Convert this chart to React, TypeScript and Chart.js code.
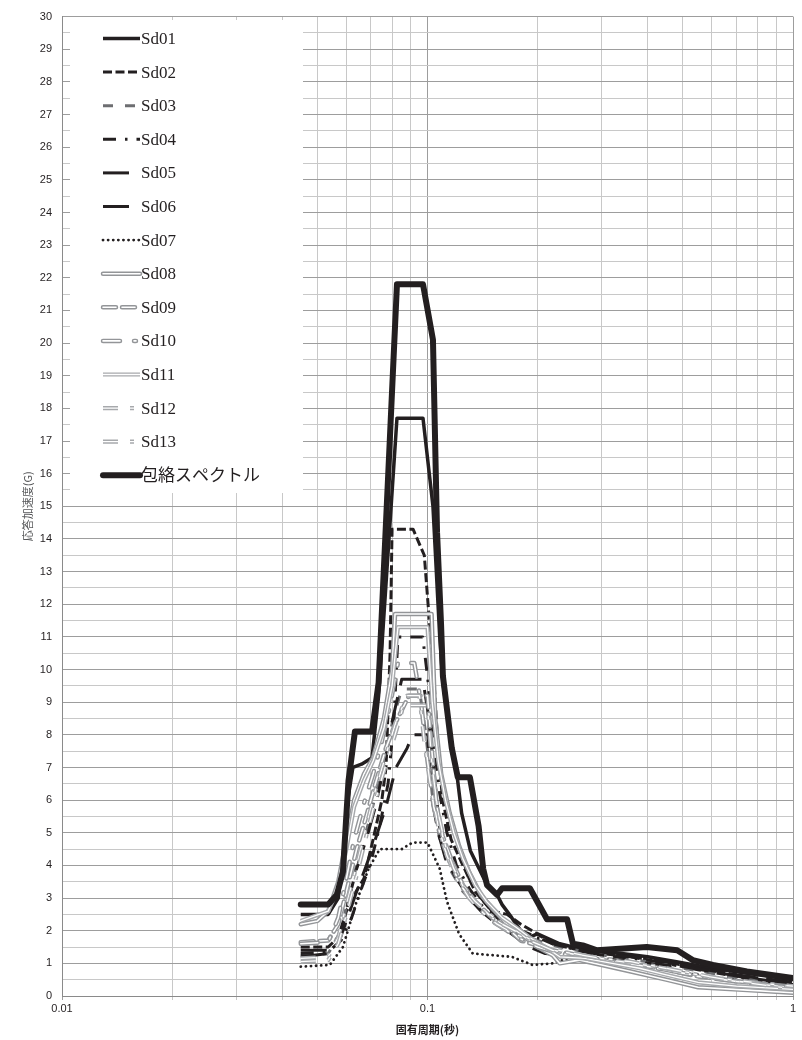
import React, { useEffect, useRef } from 'react';
import { Chart, registerables } from 'chart.js';

Chart.register(...registerables);

// ---- data (period [s], response acceleration [G]) ----
const seriesNames = ['Sd01', 'Sd02', 'Sd03', 'Sd04', 'Sd05', 'Sd06', 'Sd07', 'Sd08', 'Sd09', 'Sd10', 'Sd11', 'Sd12', 'Sd13', '包絡スペクトル'];

const sd01: [number, number][] = [[0.045, 2.5], [0.0535, 2.5], [0.057, 3.0], [0.059, 4.5], [0.0605, 6.0], [0.0625, 7.0], [0.066, 7.1], [0.0705, 7.3], [0.0735, 9.2], [0.0825, 17.7], [0.0972, 17.7], [0.1035, 15.0], [0.108, 11.0], [0.1102, 9.6], [0.1165, 7.6], [0.12, 6.9], [0.124, 5.6], [0.131, 4.45], [0.1455, 3.4], [0.155, 3.1], [0.16, 2.8], [0.17, 2.4], [0.18, 2.0], [0.19, 1.8], [0.2, 1.9], [0.23, 1.6], [0.25, 1.5], [0.29, 1.35], [0.34, 1.3], [0.4, 1.2], [0.48, 1.05], [0.6, 0.85], [0.75, 0.7], [1.0, 0.5]];
const sd02: [number, number][] = [[0.045, 1.5], [0.0535, 1.5], [0.057, 1.8], [0.06, 2.6], [0.063, 3.1], [0.067, 3.6], [0.071, 4.8], [0.075, 6.0], [0.077, 7.0], [0.079, 10.5], [0.08, 14.3], [0.0913, 14.3], [0.098, 13.5], [0.101, 11.6], [0.104, 9.8], [0.107, 7.5], [0.11, 6.0], [0.116, 4.8], [0.125, 4.0], [0.135, 3.2], [0.15, 2.6], [0.165, 2.5], [0.18, 2.2], [0.2, 1.9], [0.22, 1.6], [0.25, 1.45], [0.3, 1.3], [0.36, 1.2], [0.45, 1.0], [0.55, 0.8], [0.7, 0.6], [0.85, 0.45], [1.0, 0.35]];
const sd03: [number, number][] = [[0.045, 1.25], [0.0535, 1.3], [0.058, 2.0], [0.061, 3.1], [0.065, 4.3], [0.069, 5.3], [0.073, 6.4], [0.077, 7.5], [0.081, 8.6], [0.085, 9.4], [0.095, 9.4], [0.099, 8.0], [0.103, 6.2], [0.108, 4.8], [0.115, 3.9], [0.125, 3.2], [0.135, 2.8], [0.15, 2.3], [0.165, 2.0], [0.18, 1.9], [0.2, 1.7], [0.23, 1.5], [0.27, 1.35], [0.32, 1.2], [0.4, 1.05], [0.5, 0.85], [0.6, 0.7], [0.75, 0.5], [1.0, 0.32]];
const sd04: [number, number][] = [[0.045, 1.3], [0.0535, 1.35], [0.058, 1.7], [0.062, 2.4], [0.066, 3.3], [0.07, 4.1], [0.074, 5.2], [0.078, 6.5], [0.081, 8.5], [0.083, 11.0], [0.097, 11.0], [0.1, 9.8], [0.104, 7.8], [0.108, 6.2], [0.113, 5.0], [0.12, 4.0], [0.13, 3.3], [0.14, 2.8], [0.155, 2.4], [0.17, 2.0], [0.19, 1.8], [0.21, 1.75], [0.24, 1.5], [0.28, 1.3], [0.33, 1.2], [0.4, 1.1], [0.5, 0.95], [0.6, 0.8], [0.75, 0.6], [1.0, 0.4]];
const sd05: [number, number][] = [[0.045, 1.4], [0.0535, 1.4], [0.058, 1.9], [0.061, 3.0], [0.064, 3.9], [0.068, 4.8], [0.072, 5.8], [0.076, 7.0], [0.08, 8.4], [0.085, 9.7], [0.097, 9.7], [0.1, 8.8], [0.104, 7.0], [0.108, 5.1], [0.118, 5.1], [0.124, 4.3], [0.13, 3.6], [0.14, 3.0], [0.15, 2.6], [0.165, 2.2], [0.18, 2.0], [0.2, 1.8], [0.22, 1.6], [0.26, 1.4], [0.3, 1.25], [0.36, 1.2], [0.45, 1.05], [0.55, 0.85], [0.7, 0.65], [1.0, 0.42]];
const sd06: [number, number][] = [[0.045, 1.2], [0.0535, 1.3], [0.057, 1.6], [0.06, 2.3], [0.064, 3.2], [0.068, 4.0], [0.072, 4.8], [0.077, 5.8], [0.082, 7.0], [0.088, 7.6], [0.091, 8.0], [0.1, 8.0], [0.103, 6.0], [0.107, 5.0], [0.112, 4.2], [0.12, 3.6], [0.13, 3.0], [0.14, 2.6], [0.155, 2.2], [0.17, 1.9], [0.19, 1.5], [0.21, 1.3], [0.24, 1.25], [0.28, 1.2], [0.33, 1.1], [0.4, 1.0], [0.5, 0.9], [0.6, 0.75], [0.75, 0.55], [1.0, 0.38]];
const sd07: [number, number][] = [[0.045, 0.9], [0.054, 0.95], [0.0587, 1.5], [0.064, 2.9], [0.069, 3.9], [0.074, 4.5], [0.085, 4.5], [0.091, 4.7], [0.1, 4.7], [0.108, 3.9], [0.113, 2.9], [0.122, 1.9], [0.133, 1.3], [0.17, 1.2], [0.194, 0.95], [0.22, 1.0], [0.25, 1.2], [0.3, 1.1], [0.36, 1.0], [0.51, 0.7], [0.8, 0.4], [1.0, 0.3]];
const sd08: [number, number][] = [[0.045, 2.2], [0.05, 2.3], [0.0535, 2.6], [0.057, 3.5], [0.06, 4.8], [0.063, 6.0], [0.067, 6.8], [0.071, 7.3], [0.076, 8.5], [0.08, 10.0], [0.0815, 11.7], [0.1026, 11.7], [0.105, 8.5], [0.109, 6.8], [0.115, 5.6], [0.122, 4.6], [0.13, 3.8], [0.14, 3.1], [0.15, 2.7], [0.165, 2.2], [0.18, 1.9], [0.2, 1.5], [0.22, 1.25], [0.23, 1.0], [0.26, 1.1], [0.3, 0.95], [0.36, 0.75], [0.45, 0.5], [0.55, 0.27], [0.75, 0.18], [1.0, 0.1]];
const sd09: [number, number][] = [[0.045, 1.65], [0.0535, 1.7], [0.057, 2.2], [0.06, 3.2], [0.064, 4.5], [0.068, 5.5], [0.072, 6.5], [0.077, 7.6], [0.082, 8.4], [0.089, 9.2], [0.1, 9.2], [0.103, 7.4], [0.106, 5.8], [0.11, 4.9], [0.117, 4.1], [0.125, 3.4], [0.135, 2.9], [0.15, 2.4], [0.165, 2.1], [0.18, 1.7], [0.2, 1.55], [0.22, 1.4], [0.26, 1.25], [0.3, 1.1], [0.36, 1.0], [0.45, 0.8], [0.55, 0.6], [0.7, 0.45], [1.0, 0.28]];
const sd10: [number, number][] = [[0.045, 1.6], [0.0535, 1.65], [0.057, 2.4], [0.06, 3.6], [0.063, 4.8], [0.067, 5.9], [0.071, 6.8], [0.075, 7.8], [0.079, 8.9], [0.083, 10.2], [0.092, 10.2], [0.096, 9.0], [0.1, 7.2], [0.104, 5.8], [0.109, 4.8], [0.116, 4.0], [0.125, 3.3], [0.135, 2.8], [0.15, 2.3], [0.165, 2.0], [0.18, 1.75], [0.2, 1.5], [0.23, 1.3], [0.27, 1.2], [0.32, 1.05], [0.4, 0.9], [0.5, 0.7], [0.6, 0.55], [0.75, 0.4], [1.0, 0.25]];
const sd11: [number, number][] = [[0.045, 2.3], [0.0535, 2.6], [0.057, 3.3], [0.06, 4.5], [0.063, 5.8], [0.067, 6.6], [0.071, 7.2], [0.076, 8.2], [0.08, 9.5], [0.083, 11.3], [0.1, 11.3], [0.103, 9.0], [0.107, 7.2], [0.112, 6.0], [0.118, 5.0], [0.125, 4.2], [0.135, 3.4], [0.145, 2.9], [0.16, 2.4], [0.175, 2.1], [0.19, 1.8], [0.21, 1.5], [0.23, 1.2], [0.27, 1.15], [0.32, 1.0], [0.38, 0.85], [0.45, 0.65], [0.55, 0.42], [0.7, 0.3], [1.0, 0.2]];
const sd12: [number, number][] = [[0.045, 1.15], [0.0535, 1.2], [0.057, 1.8], [0.06, 2.8], [0.064, 4.0], [0.068, 5.2], [0.072, 6.3], [0.077, 7.4], [0.082, 8.4], [0.088, 9.2], [0.095, 9.2], [0.098, 7.8], [0.102, 6.4], [0.107, 5.2], [0.113, 4.3], [0.12, 3.6], [0.13, 3.0], [0.14, 2.6], [0.155, 2.2], [0.17, 1.95], [0.19, 1.7], [0.21, 1.5], [0.24, 1.35], [0.28, 1.2], [0.34, 1.05], [0.42, 0.9], [0.5, 0.75], [0.62, 0.55], [0.8, 0.4], [1.0, 0.3]];
const sd13: [number, number][] = [[0.045, 1.05], [0.0535, 1.1], [0.057, 1.6], [0.06, 2.5], [0.064, 3.7], [0.068, 4.9], [0.072, 6.0], [0.077, 7.1], [0.082, 8.1], [0.086, 8.9], [0.1, 8.9], [0.103, 7.0], [0.107, 5.6], [0.112, 4.6], [0.118, 3.9], [0.126, 3.3], [0.135, 2.9], [0.148, 2.5], [0.16, 2.2], [0.18, 1.9], [0.2, 1.6], [0.22, 1.4], [0.25, 1.3], [0.3, 1.15], [0.36, 1.05], [0.45, 0.85], [0.55, 0.65], [0.7, 0.45], [1.0, 0.22]];
const envelope: [number, number][] = [[0.045, 2.8], [0.0535, 2.8], [0.0565, 3.1], [0.0587, 3.8], [0.0598, 5.3], [0.0608, 6.6], [0.0633, 8.1], [0.0705, 8.1], [0.0735, 9.6], [0.0825, 21.8], [0.0972, 21.8], [0.1035, 20.1], [0.1062, 14.2], [0.1089, 11.4], [0.1102, 9.8], [0.1165, 7.6], [0.121, 6.7], [0.1306, 6.7], [0.138, 5.2], [0.142, 3.9], [0.1455, 3.4], [0.155, 3.1], [0.16, 3.3], [0.1906, 3.3], [0.2123, 2.35], [0.241, 2.35], [0.25, 1.6], [0.266, 1.55], [0.291, 1.4], [0.336, 1.45], [0.398, 1.5], [0.482, 1.4], [0.532, 1.1], [0.604, 0.95], [0.748, 0.75], [1.0, 0.55]];

const seriesData = [sd01, sd02, sd03, sd04, sd05, sd06, sd07, sd08, sd09, sd10, sd11, sd12, sd13, envelope];

const xTickValues = [0.01, 0.02, 0.03, 0.04, 0.05, 0.06, 0.07, 0.08, 0.09, 0.1, 0.2, 0.3, 0.4, 0.5, 0.6, 0.7, 0.8, 0.9, 1];
const xTickLabels = ['0.01', '0.1', '1'];
const yMin = 0;
const yMax = 30;
const xTitle = '固有周期(秒)';
const yTitle = '応答加速度(G)';

// ---- styles ----
type Style = {
  color: string;
  width: number;
  dash: number[];
  cap: CanvasLineCap;
  inner?: { color: string; width: number };
};
const BLACK = '#231f20';
const styles: Style[] = [
  { color: BLACK, width: 3.5, dash: [], cap: 'butt' },
  { color: BLACK, width: 3, dash: [9, 3.5], cap: 'butt' },
  { color: '#6d6e71', width: 3, dash: [10, 12], cap: 'butt' },
  { color: BLACK, width: 3, dash: [13, 9, 2.5, 9], cap: 'butt' },
  { color: BLACK, width: 3, dash: [26, 12], cap: 'butt' },
  { color: BLACK, width: 3, dash: [26, 12], cap: 'butt' },
  { color: BLACK, width: 2.8, dash: [0.1, 5], cap: 'round' },
  { color: '#939598', width: 4.5, dash: [], cap: 'round', inner: { color: '#ffffff', width: 1.6 } },
  { color: '#939598', width: 4.5, dash: [13, 6], cap: 'round', inner: { color: '#ffffff', width: 1.6 } },
  { color: '#939598', width: 4.5, dash: [17, 14, 2, 14], cap: 'round', inner: { color: '#ffffff', width: 1.6 } },
  { color: '#a7a9ac', width: 4.2, dash: [], cap: 'butt', inner: { color: '#ffffff', width: 1.3 } },
  { color: '#a7a9ac', width: 4.2, dash: [15, 12, 4, 12], cap: 'butt', inner: { color: '#ffffff', width: 1.3 } },
  { color: '#a7a9ac', width: 4.2, dash: [15, 12, 4, 12], cap: 'butt', inner: { color: '#ffffff', width: 1.3 } },
  { color: BLACK, width: 6, dash: [], cap: 'round' },
];

function strokeSeg(ctx: CanvasRenderingContext2D, x1: number, x2: number, y: number, color: string, width: number, dash: number[], cap: CanvasLineCap) {
  ctx.beginPath();
  ctx.setLineDash(dash);
  ctx.lineCap = cap;
  ctx.strokeStyle = color;
  ctx.lineWidth = width;
  ctx.moveTo(x1, y);
  ctx.lineTo(x2, y);
  ctx.stroke();
}

const legendPlugin = {
  id: 'insideLegend',
  afterDatasetsDraw(chart: any) {
    const ctx: CanvasRenderingContext2D = chart.ctx;
    ctx.save();
    ctx.fillStyle = '#ffffff';
    ctx.fillRect(70, 20, 233, 473);
    seriesNames.forEach((name, i) => {
      const y = 38.5 + i * 33.6;
      const st = styles[i];
      const x1 = 103;
      const x2 = 140;
      strokeSeg(ctx, x1, x2, y, st.color, st.width, st.dash, st.cap);
      if (st.inner) strokeSeg(ctx, x1, x2, y, st.inner.color, st.inner.width, st.dash, st.cap);
      ctx.setLineDash([]);
      ctx.fillStyle = BLACK;
      ctx.font = '17px "Liberation Serif", "Noto Sans CJK JP", serif';
      ctx.textBaseline = 'middle';
      ctx.textAlign = 'left';
      ctx.fillText(name, 141, y + 1);
    });
    ctx.restore();
  },
  afterDraw(chart: any) {
    const ctx: CanvasRenderingContext2D = chart.ctx;
    const area = chart.chartArea;
    ctx.save();
    ctx.fillStyle = BLACK;
    ctx.font = 'bold 11px "Noto Sans CJK JP", sans-serif';
    ctx.textAlign = 'center';
    ctx.textBaseline = 'middle';
    ctx.fillText(xTitle, (area.left + area.right) / 2, 1030);
    ctx.translate(28, (area.top + area.bottom) / 2);
    ctx.rotate(-Math.PI / 2);
    ctx.fillStyle = '#58595b';
    ctx.font = '11px "Noto Sans CJK JP", sans-serif';
    ctx.fillText(yTitle, 0, 0);
    ctx.restore();
  },
};

const isInt = (v: number) => Math.abs(v - Math.round(v)) < 1e-6;
const isDecade = (v: number) => {
  const l = Math.log10(v);
  return Math.abs(l - Math.round(l)) < 1e-6;
};

export default function App() {
  const canvasRef = useRef<HTMLCanvasElement | null>(null);

  useEffect(() => {
    if (!canvasRef.current) return;
    const datasets: any[] = [];
    seriesData.forEach((pts, i) => {
      const st = styles[i];
      const isEnv = i === seriesData.length - 1;
      const baseOrder = isEnv ? 0 : 100 - i * 2;
      const data = pts.map(([x, y]) => ({ x, y }));
      datasets.push({
        label: seriesNames[i],
        data,
        borderColor: st.color,
        borderWidth: st.width,
        borderDash: st.dash,
        borderCapStyle: st.cap,
        borderJoinStyle: 'round',
        pointRadius: 0,
        fill: false,
        tension: 0,
        order: baseOrder,
      });
      if (st.inner) {
        datasets.push({
          label: seriesNames[i] + '_inner',
          data,
          borderColor: st.inner.color,
          borderWidth: st.inner.width,
          borderDash: st.dash,
          borderCapStyle: st.cap,
          borderJoinStyle: 'round',
          pointRadius: 0,
          fill: false,
          tension: 0,
          order: baseOrder - 0.5,
        });
      }
    });

    const chart = new Chart(canvasRef.current, {
      type: 'line',
      data: { datasets },
      plugins: [legendPlugin],
      options: {
        responsive: false,
        animation: false,
        events: [],
        layout: { padding: { left: 0, right: 9, top: 9, bottom: 0 } },
        plugins: { legend: { display: false }, tooltip: { enabled: false } },
        scales: {
          x: {
            type: 'logarithmic',
            min: 0.01,
            max: 1,
            afterBuildTicks: (s: any) => {
              s.ticks = xTickValues.map((v) => ({ value: v, major: isDecade(v) }));
            },
            afterFit: (s: any) => {
              s.height = 44;
            },
            border: { color: '#8a8a8a', width: 1 },
            grid: {
              color: (c: any) => (c.tick && isDecade(c.tick.value) ? '#9d9d9d' : '#c8c8c8'),
              lineWidth: 1,
              tickLength: 4,
              drawTicks: true,
            },
            ticks: {
              autoSkip: false,
              maxRotation: 0,
              minRotation: 0,
              padding: 2,
              color: BLACK,
              font: { family: '"Liberation Sans", Arial, sans-serif', size: 11 },
              callback: (v: any) => {
                const n = Number(v);
                if (!isDecade(n)) return '';
                const idx = Math.round(Math.log10(n)) + 2;
                return xTickLabels[idx] ?? '';
              },
            },
          },
          y: {
            type: 'linear',
            min: yMin,
            max: yMax,
            afterFit: (s: any) => {
              s.width = 62;
            },
            border: { color: '#8a8a8a', width: 1 },
            grid: {
              color: (c: any) => (c.tick && isInt(c.tick.value) ? '#9d9d9d' : '#c8c8c8'),
              lineWidth: 1,
              drawTicks: false,
            },
            ticks: {
              stepSize: 0.5,
              autoSkip: false,
              padding: 10,
              color: BLACK,
              font: { family: '"Liberation Sans", Arial, sans-serif', size: 11 },
              callback: (v: any) => (isInt(Number(v)) ? String(Math.round(Number(v))) : ''),
            },
          },
        },
      } as any,
    });
    return () => chart.destroy();
  }, []);

  return (
    <div style={{ position: 'absolute', left: 0, top: 0, width: 802, height: 1040, background: '#fff' }}>
      <canvas ref={canvasRef} width={802} height={1040} style={{ display: 'block' }} />
    </div>
  );
}
